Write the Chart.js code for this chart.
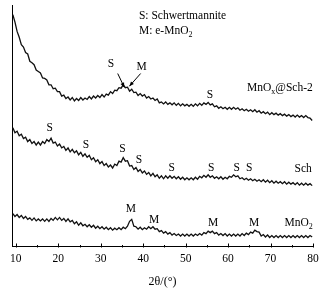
<!DOCTYPE html>
<html>
<head>
<meta charset="utf-8">
<script src="https://cdn.jsdelivr.net/npm/chart.js@4.4.0/dist/chart.umd.min.js"></script>
<style>body{margin:0;background:#fff}</style>
</head>
<body>
<canvas id="xrd" width="323" height="293"></canvas>
<script>
// 2θ sampling grid: 9.3° .. 79.8° every 0.5°
const start = 9.3, step = 0.5;

// intensities (a.u.)
const sch2 = [
  237, 229.5, 220, 214, 206.5, 204, 198.5, 197, 189.5, 188,
  186, 180.5, 179, 177.5, 172.5, 172, 170.5, 165.5, 165.5, 161.5,
  162, 158.5, 158.5, 154, 155, 151.5, 153, 150, 152.5, 149,
  151.5, 149.5, 152.5, 150, 152, 150.5, 153.5, 151, 154, 152,
  154.5, 152.5, 155.5, 153, 156, 155, 158.5, 156.5, 160, 159.5,
  162.5, 162, 165.5, 162.5, 163, 159, 161, 157.5, 158, 154.5,
  156.5, 154, 155.5, 152, 153.5, 151, 152, 149.5, 151, 147,
  148, 146, 148, 145.5, 147, 145, 147, 144.5, 146.5, 144,
  146, 144, 145.5, 143.5, 145.5, 143.5, 146, 144, 146.5, 144.5,
  147, 145.5, 147.5, 145, 146, 143, 144, 141.5, 143, 141,
  142.5, 140.5, 142.5, 140.5, 142.5, 140.5, 142, 139.5, 141, 139,
  140.5, 138.5, 140, 138, 140, 137.5, 139, 136.5, 138, 136,
  137.5, 135, 137, 135, 136.5, 134.5, 136, 134, 135.5, 133.5,
  135, 133, 134.5, 132.5, 134.5, 132.5, 134, 132, 134, 132,
  131.5, 129
];
const sch = [
  121.5, 116.5, 118, 113.5, 115, 110.5, 112, 107.5, 109.5, 105.5,
  107.5, 104, 107, 104, 107.5, 105.5, 109.5, 107.5, 111, 106,
  107, 103, 105, 101, 102.5, 98.5, 101, 97, 99.5, 96,
  98, 94, 96.5, 92.5, 95, 91.5, 93.5, 89, 91, 87,
  89, 85, 87, 83, 85, 81.5, 83.5, 80.5, 84.5, 83,
  87.5, 86.5, 91, 87.5, 88, 82.5, 83, 79, 81, 77,
  79, 75.5, 77.5, 74, 76, 72.5, 75, 71.5, 73.5, 70,
  72.5, 69.5, 72.5, 70, 72.5, 70, 72, 69.5, 71.5, 69,
  71, 68.5, 70.5, 68.5, 70.5, 68.5, 71, 69, 72, 70.5,
  73, 71, 73.5, 71, 72.5, 70, 71.5, 69.5, 71.5, 69,
  71, 69.5, 72, 71, 73.5, 71.5, 72.5, 69.5, 70.5, 68.5,
  70, 68, 69.5, 67.5, 69, 67, 68.5, 66.5, 68.5, 66,
  68, 65.5, 67.5, 65, 67, 65, 66.5, 64.5, 66.5, 64,
  66, 64, 65.5, 63.5, 65.5, 63, 65, 63, 65, 63,
  64.5, 62.5
];
const mno2 = [
  34, 31, 33, 30, 32, 29, 31, 28, 29.5, 27,
  29.5, 26.5, 28.5, 26.5, 28.5, 26, 28.5, 26, 29, 27,
  30, 27.5, 30, 27, 29, 26, 28.5, 25.5, 27, 23.5,
  25.5, 22, 24.5, 21.5, 23, 20.5, 22.5, 20, 22, 19,
  21, 18.5, 20.5, 18, 20, 17.5, 19.5, 17, 19, 17.5,
  19.5, 17.5, 20, 18.5, 21, 26, 28, 21, 20.5, 18,
  20, 17.5, 19.5, 18, 20.5, 18.5, 20.5, 18, 18.5, 15.5,
  16.5, 14, 15.5, 13, 14.5, 12, 13.5, 11.5, 13, 11,
  13, 11, 13, 11, 13, 11, 13, 11.5, 13.5, 12,
  14.5, 13.5, 16, 14.5, 16, 13.5, 14.5, 12, 13.5, 11.5,
  13.5, 11, 13, 11, 13, 11, 13, 11, 13.5, 11.5,
  14, 12.5, 15, 14, 17, 15.5, 15, 11, 12.5, 10,
  12, 9.5, 11.5, 9.5, 11.5, 9.5, 11.5, 9.5, 11.5, 9.5,
  11.5, 9.5, 11.5, 9.5, 11.5, 9.5, 11.5, 9.5, 11.5, 9.5,
  11.5, 10
];

const xTicks = [10, 20, 30, 40, 50, 60, 70, 80];
const minorTicks = [15, 25, 35, 45, 55, 65, 75];

const twoTheta = sch2.map((_, i) => +(start + i * step).toFixed(1));
const toPts = arr => arr.map((v, i) => ({x: twoTheta[i], y: v}));

// text placed in data coordinates; parts: [text, 'sub'?]
const notes = [
  {parts: [['S: Schwertmannite']], x: 39.0, y: 236, align: 'left'},
  {parts: [['M: e-MnO'], ['2', 'sub']], x: 39.0, y: 220, align: 'left'},
  {parts: [['S']], x: 32.4, y: 187},
  {parts: [['M']], x: 39.65, y: 184},
  {parts: [['S']], x: 55.7, y: 155},
  {parts: [['MnO'], ['x', 'sub'], ['@Sch-2']], x: 72.2, y: 162},
  {parts: [['S']], x: 18.0, y: 121},
  {parts: [['S']], x: 26.5, y: 104},
  {parts: [['S']], x: 35.1, y: 100},
  {parts: [['S']], x: 39.0, y: 89},
  {parts: [['S']], x: 46.7, y: 80},
  {parts: [['S']], x: 56.0, y: 80},
  {parts: [['S']], x: 62.0, y: 80},
  {parts: [['S']], x: 65.0, y: 80},
  {parts: [['Sch']], x: 77.7, y: 79},
  {parts: [['M']], x: 37.1, y: 39},
  {parts: [['M']], x: 42.6, y: 27},
  {parts: [['M']], x: 56.5, y: 24},
  {parts: [['M']], x: 66.1, y: 24},
  {parts: [['MnO'], ['2', 'sub']], x: 76.6, y: 24}
];
const arrows = [
  [34.0, 177, 35.55, 163],
  [39.4, 177, 36.75, 164]
];

const serif = "'Liberation Serif', 'Times New Roman', serif";
Chart.defaults.font.family = serif;
Chart.defaults.color = '#000';

function partsWidth(ctx, n) {
  let w = 0;
  n.parts.forEach(p => { ctx.font = (p[1] ? '8px ' : '11.5px ') + serif; w += ctx.measureText(p[0]).width; });
  return w;
}

const decor = {
  id: 'decor',
  afterDraw(chart) {
    const {ctx, chartArea, scales: {x, y}} = chart;
    ctx.save();
    ctx.strokeStyle = '#000';
    ctx.fillStyle = '#000';
    ctx.lineWidth = 1;
    // inward ticks
    const b = Math.round(chartArea.bottom) + 0.5;
    ctx.beginPath();
    xTicks.forEach(v => { const px = Math.round(x.getPixelForValue(v)) + 0.5; ctx.moveTo(px, b); ctx.lineTo(px, b - 4); });
    minorTicks.forEach(v => { const px = Math.round(x.getPixelForValue(v)) + 0.5; ctx.moveTo(px, b); ctx.lineTo(px, b - 2.5); });
    ctx.stroke();
    // arrows
    arrows.forEach(a => {
      const x0 = x.getPixelForValue(a[0]), y0 = y.getPixelForValue(a[1]);
      const x1 = x.getPixelForValue(a[2]), y1 = y.getPixelForValue(a[3]);
      const ang = Math.atan2(y1 - y0, x1 - x0);
      ctx.beginPath();
      ctx.moveTo(x0, y0); ctx.lineTo(x1, y1); ctx.stroke();
      ctx.beginPath();
      ctx.moveTo(x1, y1);
      ctx.lineTo(x1 - 5 * Math.cos(ang - 0.4), y1 - 5 * Math.sin(ang - 0.4));
      ctx.lineTo(x1 - 5 * Math.cos(ang + 0.4), y1 - 5 * Math.sin(ang + 0.4));
      ctx.closePath(); ctx.fill();
    });
    // labels
    ctx.textBaseline = 'middle';
    ctx.textAlign = 'left';
    notes.forEach(n => {
      const w = partsWidth(ctx, n);
      let px = x.getPixelForValue(n.x);
      const py = y.getPixelForValue(n.y);
      if (n.align !== 'left') px -= w / 2;
      n.parts.forEach(p => {
        ctx.font = (p[1] ? '8px ' : '11.5px ') + serif;
        ctx.fillText(p[0], px, p[1] ? py + 3.5 : py);
        px += ctx.measureText(p[0]).width;
      });
    });
    ctx.restore();
  }
};

const line = (data) => ({
  data: toPts(data),
  borderColor: '#111',
  borderWidth: 1.3,
  pointRadius: 0,
  tension: 0,
  fill: false
});

new Chart(document.getElementById('xrd'), {
  type: 'line',
  data: {
    datasets: [line(sch2), line(sch), line(mno2)]
  },
  options: {
    responsive: false,
    animation: false,
    events: [],
    layout: {padding: {left: 12, top: 5, right: 10, bottom: 0}},
    plugins: {legend: {display: false}, tooltip: {enabled: false}},
    scales: {
      x: {
        type: 'linear',
        min: 9.1,
        max: 80,
        afterBuildTicks: s => { s.ticks = xTicks.map(v => ({value: v})); },
        afterFit: s => { s.paddingLeft = 0; s.paddingRight = 0; },
        grid: {display: false, drawTicks: false},
        border: {display: true, color: '#000', width: 1},
        ticks: {font: {size: 11.5}, padding: 5, maxRotation: 0, autoSkip: false},
        title: {display: true, text: '2θ/(°)', font: {size: 12}, padding: {top: 4, bottom: 4}}
      },
      y: {
        min: 0,
        max: 247,
        grid: {display: false, drawTicks: false},
        border: {display: true, color: '#000', width: 1},
        ticks: {display: false}
      }
    }
  },
  plugins: [decor]
});
</script>
</body>
</html>
